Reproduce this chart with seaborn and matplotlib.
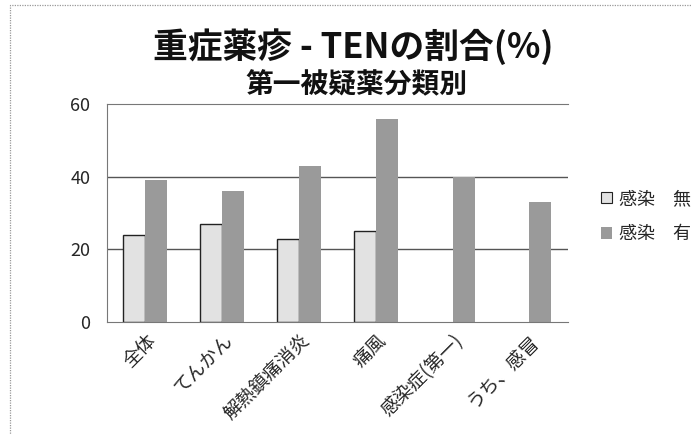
import matplotlib
matplotlib.use("Agg")
import matplotlib.pyplot as plt
import seaborn as sns
import pandas as pd
from matplotlib.patches import Rectangle

categories = ["全体", "てんかん", "解熱鎮痛消炎", "痛風", "感染症(第一)", "うち、感冒"]
series_names = ["感染　無", "感染　有"]
values_none = [24, 27, 23, 25, 0, 0]
values_yes = [39, 36, 43, 56, 40, 33]
yticks = [0, 20, 40, 60]

sns.set_style("white")
plt.rcParams['font.family'] = ['Noto Sans CJK JP', 'DejaVu Sans']

df = pd.DataFrame({
    "cat": categories * 2,
    "series": [series_names[0]] * len(categories) + [series_names[1]] * len(categories),
    "val": values_none + values_yes,
})

fig = plt.figure(figsize=(6.92, 4.34), dpi=100)
ax = fig.add_axes([0.1546, 0.258, 0.666, 0.502])

palette = {series_names[0]: "#e2e2e2", series_names[1]: "#9a9a9a"}
sns.barplot(data=df, x="cat", y="val", hue="series", palette=palette,
            width=0.57, ax=ax, legend=False, saturation=1, gap=0)

for p in ax.patches:
    fc = p.get_facecolor()
    if fc[0] > 0.8 and p.get_height() > 0:
        p.set_edgecolor("#222222")
        p.set_linewidth(1.0)
    else:
        p.set_edgecolor("none")
    if p.get_height() == 0:
        p.set_visible(False)

ax.set_ylim(0, 60)
ax.set_xlim(-0.5, len(categories) - 0.5)
ax.set_yticks(yticks)
ax.set_yticklabels([str(t) for t in yticks], fontsize=13)
ax.set_xlabel("")
ax.set_ylabel("")
ax.tick_params(axis='y', length=0, pad=12)
ax.tick_params(axis='x', length=0, pad=6)
ax.set_xticks(range(len(categories)))
ax.set_xticklabels(categories, rotation=45, ha='right', rotation_mode='anchor', fontsize=13.5)

for y in [20, 40]:
    ax.axhline(y, color="#555555", linewidth=1.0, zorder=0)
ax.set_axisbelow(True)

for side in ["left", "top", "bottom"]:
    ax.spines[side].set_visible(True)
    ax.spines[side].set_linestyle((0, (1, 1)))
    ax.spines[side].set_color("#777777")
    ax.spines[side].set_linewidth(0.8)
ax.spines["right"].set_visible(False)

fig.text(0.51, 0.893, "重症薬疹 - TENの割合(%)", ha='center', va='center',
         fontsize=25, fontweight='bold', color="#111111")
fig.text(0.515, 0.803, "第一被疑薬分類別", ha='center', va='center',
         fontsize=20, fontweight='bold', color="#111111")

handles = [Rectangle((0, 0), 1, 1, facecolor=palette[s],
                     edgecolor="#222222" if i == 0 else "none", linewidth=0.8)
           for i, s in enumerate(series_names)]
fig.legend(handles, series_names, loc='center left', bbox_to_anchor=(0.869, 0.501),
           frameon=False, fontsize=13, handlelength=0.6, handleheight=0.6,
           handletextpad=0.35, labelspacing=0.95, borderpad=0, borderaxespad=0)

fig.patches.append(Rectangle((0.014, -0.02), 1.0, 1.008, transform=fig.transFigure,
                             fill=False, edgecolor="#999999", linewidth=0.9,
                             linestyle=(0, (1, 1))))

fig.savefig("out.png", dpi=100)
